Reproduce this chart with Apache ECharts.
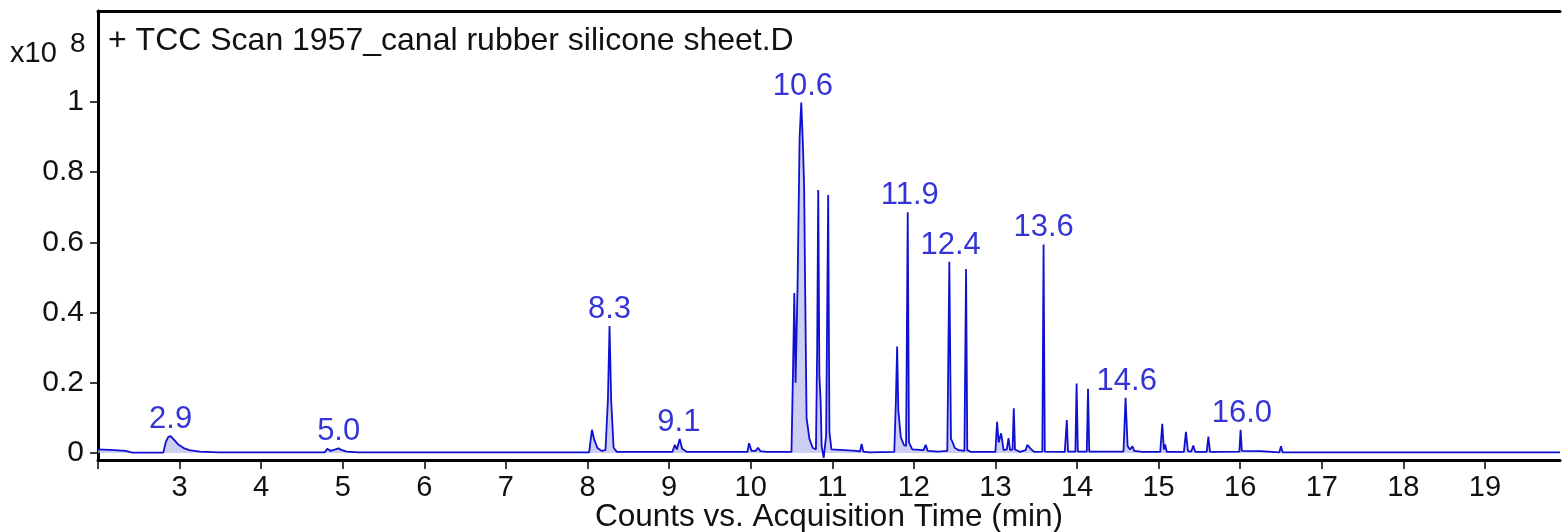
<!DOCTYPE html>
<html>
<head>
<meta charset="utf-8">
<script src="https://cdn.jsdelivr.net/npm/echarts@6/dist/echarts.min.js"></script>
<style>
html,body{margin:0;padding:0;background:#fff;}
#chart{width:1562px;height:532px;}
</style>
</head>
<body>
<div id="chart"></div>
<script>
// Retention time (min) of each trace point
const rtMin = [
  2.00, 2.20, 2.34, 2.42, 2.80, 2.83, 2.86, 2.89, 2.93, 2.98, 3.05, 3.12, 3.25, 3.48,
  4.78, 4.81, 4.85, 4.87, 4.91, 4.95, 4.99, 5.05, 5.20, 5.26, 5.28, 5.31,
  8.02, 8.04, 8.055, 8.08, 8.12, 8.17, 8.22, 8.25, 8.27, 8.29, 8.32, 8.36,
  9.04, 9.07, 9.095, 9.13, 9.16, 9.22,
  9.96, 9.98, 10.01, 10.06, 10.09, 10.12, 10.20, 10.50,
  10.52, 10.535, 10.55, 10.575, 10.60, 10.62, 10.64, 10.655, 10.67, 10.685, 10.72, 10.76, 10.80,
  10.815, 10.828, 10.842, 10.857, 10.87, 10.895, 10.925, 10.95, 10.965, 10.99,
  11.30, 11.34, 11.36, 11.38, 11.45,
  11.76, 11.78, 11.795, 11.81, 11.84, 11.88, 11.905, 11.925, 11.94, 11.98,
  12.12, 12.145, 12.17, 12.30, 12.41, 12.435, 12.455, 12.48, 12.50, 12.55, 12.62, 12.64, 12.655, 12.70,
  13.00, 13.02, 13.04, 13.07, 13.10, 13.14, 13.16, 13.18, 13.21, 13.225, 13.24, 13.30, 13.37, 13.39, 13.44, 13.48,
  13.575, 13.59, 13.605, 13.85, 13.875, 13.89, 13.98, 13.995, 14.01, 14.12, 14.135, 14.15,
  14.57, 14.595, 14.62, 14.65, 14.68, 14.70, 14.80,
  15.02, 15.045, 15.065, 15.08, 15.10, 15.31, 15.335, 15.36, 15.40, 15.425, 15.45,
  15.59, 15.61, 15.63, 15.99, 16.005, 16.02, 16.25, 16.27, 16.48, 16.50, 16.52, 19.92
];
// Counts (x10^8) at each retention time
const countsE8 = [
  0.010, 0.008, 0.006, 0.001, 0.001, 0.030, 0.045, 0.048, 0.038, 0.025, 0.014, 0.008, 0.004, 0.002,
  0.002, 0.012, 0.006, 0.004, 0.010, 0.013, 0.008, 0.004, 0.002, 0.002, 0.006, 0.002,
  0.002, 0.040, 0.066, 0.040, 0.015, 0.006, 0.008, 0.150, 0.362, 0.150, 0.015, 0.003,
  0.003, 0.023, 0.010, 0.040, 0.012, 0.003,
  0.003, 0.028, 0.006, 0.006, 0.015, 0.005, 0.003, 0.003,
  0.250, 0.456, 0.200, 0.480, 0.900, 0.998, 0.880, 0.760, 0.420, 0.100, 0.040, 0.015, 0.010,
  0.300, 0.749, 0.220, 0.151, 0.020, -0.014, 0.050, 0.735, 0.060, 0.010,
  0.006, 0.004, 0.026, 0.004, 0.002,
  0.003, 0.150, 0.303, 0.120, 0.045, 0.022, 0.020, 0.686, 0.030, 0.010,
  0.008, 0.023, 0.006, 0.004, 0.006, 0.545, 0.040, 0.028, 0.015, 0.008, 0.006, 0.524, 0.008, 0.003,
  0.003, 0.089, 0.030, 0.056, 0.008, 0.010, 0.042, 0.008, 0.010, 0.127, 0.010, 0.003, 0.008, 0.023, 0.010, 0.003,
  0.004, 0.594, 0.004, 0.003, 0.094, 0.004, 0.004, 0.198, 0.004, 0.004, 0.183, 0.004,
  0.004, 0.157, 0.020, 0.010, 0.019, 0.006, 0.003,
  0.003, 0.083, 0.010, 0.024, 0.003, 0.003, 0.060, 0.005, 0.004, 0.021, 0.003,
  0.003, 0.047, 0.003, 0.004, 0.066, 0.006, 0.005, 0.002, 0.002, 0.019, 0.002, 0.002
];
// Annotated peaks
const peakRt = [2.89, 4.95, 8.27, 9.12, 10.64, 11.95, 12.45, 13.59, 14.61, 16.02];
const peakHeight = [0.048, 0.013, 0.362, 0.040, 0.998, 0.686, 0.545, 0.594, 0.157, 0.066];
const peakText = ['2.9', '5.0', '8.3', '9.1', '10.6', '11.9', '12.4', '13.6', '14.6', '16.0'];
// Axis ticks
const xTicks = [2, 3, 4, 5, 6, 7, 8, 9, 10, 11, 12, 13, 14, 15, 16, 17, 18, 19];
const xTickLabels = [3, 4, 5, 6, 7, 8, 9, 10, 11, 12, 13, 14, 15, 16, 17, 18, 19];
const yTicks = [0, 0.2, 0.4, 0.6, 0.8, 1];

const FONT = '"Liberation Sans", Arial, sans-serif';
const traceData = rtMin.map((t, i) => [t, countsE8[i]]);
const peakData = peakRt.map((t, i) => [t, peakHeight[i], peakText[i]]);

const chart = echarts.init(document.getElementById('chart'), null, {renderer: 'canvas'});
chart.setOption({
  animation: false,
  backgroundColor: '#ffffff',
  textStyle: {fontFamily: FONT},
  title: [
    {text: 'x10', left: 5, top: 34, textStyle: {fontFamily: FONT, fontSize: 29, fontWeight: 'normal', color: '#111'}},
    {text: '8', left: 65, top: 25, textStyle: {fontFamily: FONT, fontSize: 28, fontWeight: 'normal', color: '#111'}},
    {text: '+ TCC Scan 1957_canal rubber silicone sheet.D', left: 103, top: 20,
     textStyle: {fontFamily: FONT, fontSize: 32, fontWeight: 'normal', color: '#111'}}
  ],
  grid: {left: 98, right: 2, top: 11, bottom: 72, containLabel: false, outerBoundsMode: 'none'},
  xAxis: [{
    type: 'value', min: 2, max: 19.92, position: 'bottom',
    axisLine: {show: true, onZero: false, lineStyle: {color: '#000', width: 3}},
    axisTick: {show: true, customValues: xTicks, length: 9, lineStyle: {color: '#000', width: 1.5}},
    axisLabel: {show: true, customValues: xTickLabels, fontSize: 29, color: '#111', margin: 13, fontFamily: FONT},
    splitLine: {show: false},
    name: 'Counts vs. Acquisition Time (min)', nameLocation: 'middle', nameGap: 41,
    nameMoveOverlap: false,
    nameTextStyle: {fontSize: 31.5, color: '#111', fontFamily: FONT}
  }, {
    type: 'value', min: 2, max: 19.92, position: 'top',
    axisLine: {show: true, onZero: false, lineStyle: {color: '#000', width: 3}},
    axisTick: {show: false}, axisLabel: {show: false}, splitLine: {show: false}
  }],
  yAxis: {
    type: 'value', min: -0.02, max: 1.259,
    axisLine: {show: true, onZero: false, lineStyle: {color: '#000', width: 3}},
    axisTick: {show: true, customValues: yTicks, length: 8, lineStyle: {color: '#000', width: 1.5}},
    axisLabel: {show: true, customValues: yTicks, fontSize: 30, color: '#111', margin: 14, fontFamily: FONT},
    splitLine: {show: false}
  },
  series: [{
    type: 'line', name: 'TIC', data: traceData, xAxisIndex: 0,
    showSymbol: false, symbol: 'none', smooth: false,
    lineStyle: {color: '#1010d0', width: 1.8},
    areaStyle: {color: '#b9b9ee', origin: 0},
    z: 2
  }, {
    type: 'scatter', name: 'peaks', data: peakData, xAxisIndex: 0,
    symbolSize: 0, silent: true,
    label: {show: true, position: 'top', distance: 1, formatter: p => p.data[2],
      fontSize: 31, color: '#0000cc', fontFamily: FONT},
    z: 3
  }]
});
</script>
</body>
</html>
